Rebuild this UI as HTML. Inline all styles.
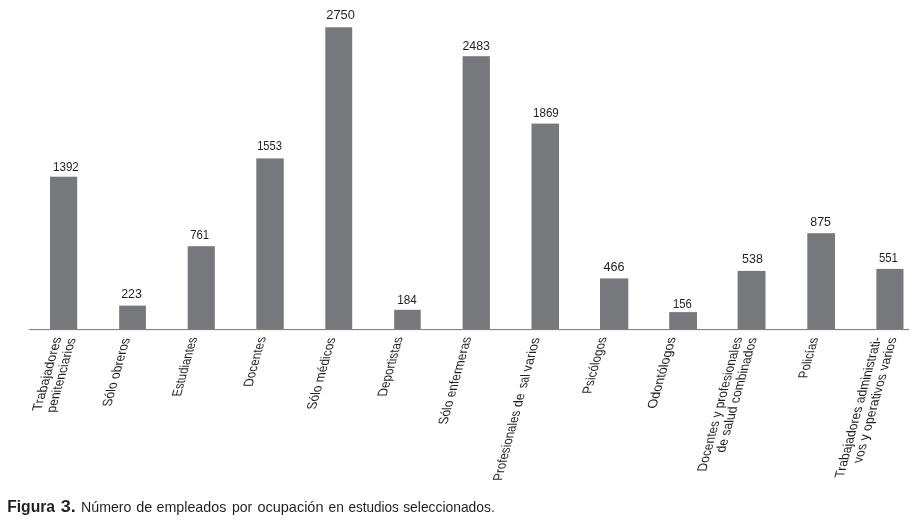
<!DOCTYPE html>
<html lang="es"><head><meta charset="utf-8"><title>Figura 3</title>
<style>
html,body{margin:0;padding:0;background:#fff;}
body{width:916px;height:524px;overflow:hidden;}
svg{display:block;}
text{font-family:"Liberation Sans",sans-serif;fill:#231f20;}
.v{font-size:12.2px;}
.c{font-size:12.5px;text-anchor:end;}
.cap{font-size:14.8px;}
.b{font-weight:bold;font-size:15.6px;}
</style></head><body>
<svg width="916" height="524" viewBox="0 0 916 524">
<rect width="916" height="524" fill="#fff"/>

<g fill="#77787b">
<rect x="50.0" y="176.7" width="27.2" height="153.3"/>
<rect x="119.2" y="305.6" width="26.7" height="24.4"/>
<rect x="187.7" y="246.2" width="27.1" height="83.8"/>
<rect x="256.3" y="158.4" width="27.4" height="171.6"/>
<rect x="325.3" y="27.3" width="26.9" height="302.7"/>
<rect x="394.2" y="309.8" width="26.5" height="20.2"/>
<rect x="462.6" y="56.2" width="27.3" height="273.8"/>
<rect x="531.5" y="123.6" width="27.5" height="206.4"/>
<rect x="600.0" y="278.4" width="28.3" height="51.6"/>
<rect x="669.2" y="312.1" width="27.8" height="17.9"/>
<rect x="737.6" y="270.9" width="27.9" height="59.1"/>
<rect x="807.3" y="233.2" width="27.7" height="96.8"/>
<rect x="876.4" y="268.9" width="27.1" height="61.1"/>
</g>
<rect x="28.8" y="329" width="880.2" height="1.1" fill="#808285"/>
<text class="v" x="53.0" y="171.0" textLength="25.8" lengthAdjust="spacingAndGlyphs">1392</text>
<text class="v" x="121.2" y="298.1" textLength="20.7" lengthAdjust="spacingAndGlyphs">223</text>
<text class="v" x="190.2" y="238.7" textLength="19.0" lengthAdjust="spacingAndGlyphs">761</text>
<text class="v" x="257.2" y="149.8" textLength="24.7" lengthAdjust="spacingAndGlyphs">1553</text>
<text class="v" x="326.3" y="18.9" textLength="28.6" lengthAdjust="spacingAndGlyphs">2750</text>
<text class="v" x="397.2" y="303.7" textLength="19.5" lengthAdjust="spacingAndGlyphs">184</text>
<text class="v" x="462.4" y="50.0" textLength="27.5" lengthAdjust="spacingAndGlyphs">2483</text>
<text class="v" x="533.1" y="116.8" textLength="25.7" lengthAdjust="spacingAndGlyphs">1869</text>
<text class="v" x="603.5" y="270.8" textLength="21.1" lengthAdjust="spacingAndGlyphs">466</text>
<text class="v" x="673.1" y="307.7" textLength="18.8" lengthAdjust="spacingAndGlyphs">156</text>
<text class="v" x="742.1" y="262.7" textLength="20.8" lengthAdjust="spacingAndGlyphs">538</text>
<text class="v" x="810.3" y="225.8" textLength="20.6" lengthAdjust="spacingAndGlyphs">875</text>
<text class="v" x="878.9" y="261.8" textLength="19.1" lengthAdjust="spacingAndGlyphs">551</text>
<text class="c" transform="matrix(0.280,-1,1.08,0,61.6,337.2)" textLength="73.6" lengthAdjust="spacingAndGlyphs">Trabajadores</text>
<text class="c" transform="matrix(0.280,-1,1.08,0,75.9,338.1)" textLength="74.4" lengthAdjust="spacingAndGlyphs">penitenciarios</text>
<text class="c" transform="matrix(0.280,-1,1.08,0,130.1,338.1)" textLength="68.4" lengthAdjust="spacingAndGlyphs">Sólo obreros</text>
<text class="c" transform="matrix(0.280,-1,1.08,0,197.3,337.2)" textLength="59.4" lengthAdjust="spacingAndGlyphs">Estudiantes</text>
<text class="c" transform="matrix(0.280,-1,1.08,0,266.1,336.9)" textLength="49.9" lengthAdjust="spacingAndGlyphs">Docentes</text>
<text class="c" transform="matrix(0.280,-1,1.08,0,335.7,337.7)" textLength="71.8" lengthAdjust="spacingAndGlyphs">Sólo médicos</text>
<text class="c" transform="matrix(0.280,-1,1.08,0,402.9,337.2)" textLength="59.4" lengthAdjust="spacingAndGlyphs">Deportistas</text>
<text class="c" transform="matrix(0.280,-1,1.08,0,471.5,337.0)" textLength="87.5" lengthAdjust="spacingAndGlyphs">Sólo enfermeras</text>
<text class="c" style="text-anchor:start" transform="matrix(0.268,-1,1.08,0,540.0,337.7)"><tspan x="-143.1" textLength="70.1" lengthAdjust="spacingAndGlyphs">Profesionales</tspan> <tspan x="-69.2" textLength="13.5" lengthAdjust="spacingAndGlyphs">de</tspan> <tspan x="-50.3" textLength="13.5" lengthAdjust="spacingAndGlyphs">sal</tspan> <tspan x="-33.7" textLength="33.7" lengthAdjust="spacingAndGlyphs">varios</tspan></text>
<text class="c" transform="matrix(0.280,-1,1.08,0,606.9,337.2)" textLength="56.5" lengthAdjust="spacingAndGlyphs">Psicólogos</text>
<text class="c" transform="matrix(0.280,-1,1.08,0,676.1,337.2)" textLength="71.4" lengthAdjust="spacingAndGlyphs">Odontólogos</text>
<text class="c" transform="matrix(0.271,-1,1.08,0,742.3,337.2)" textLength="134.2" lengthAdjust="spacingAndGlyphs">Docentes y profesionales</text>
<text class="c" transform="matrix(0.280,-1,1.08,0,757.0,337.7)" textLength="114.8" lengthAdjust="spacingAndGlyphs">de salud combinados</text>
<text class="c" transform="matrix(0.280,-1,1.08,0,818.4,337.7)" textLength="40.5" lengthAdjust="spacingAndGlyphs">Policías</text>
<text class="c" transform="matrix(0.270,-1,1.08,0,881.5,337.2)" textLength="140.6" lengthAdjust="spacingAndGlyphs">Trabajadores administrati-</text>
<text class="c" transform="matrix(0.280,-1,1.08,0,896.8,337.7)" textLength="125.4" lengthAdjust="spacingAndGlyphs">vos y operativos varios</text>
<text class="cap" y="512.0"><tspan class="b" x="7.2" textLength="47.9" lengthAdjust="spacingAndGlyphs">Figura</tspan> <tspan class="b" x="60.8" textLength="15.0" lengthAdjust="spacingAndGlyphs">3.</tspan> <tspan x="81.0" textLength="50.5" lengthAdjust="spacingAndGlyphs">Número</tspan> <tspan x="136.3" textLength="16.1" lengthAdjust="spacingAndGlyphs">de</tspan> <tspan x="156.5" textLength="69.8" lengthAdjust="spacingAndGlyphs">empleados</tspan> <tspan x="232.0" textLength="20.3" lengthAdjust="spacingAndGlyphs">por</tspan> <tspan x="257.4" textLength="66.1" lengthAdjust="spacingAndGlyphs">ocupación</tspan> <tspan x="328.5" textLength="15.3" lengthAdjust="spacingAndGlyphs">en</tspan> <tspan x="348.4" textLength="50.4" lengthAdjust="spacingAndGlyphs">estudios</tspan> <tspan x="403.2" textLength="91.6" lengthAdjust="spacingAndGlyphs">seleccionados.</tspan></text>
</svg></body></html>
